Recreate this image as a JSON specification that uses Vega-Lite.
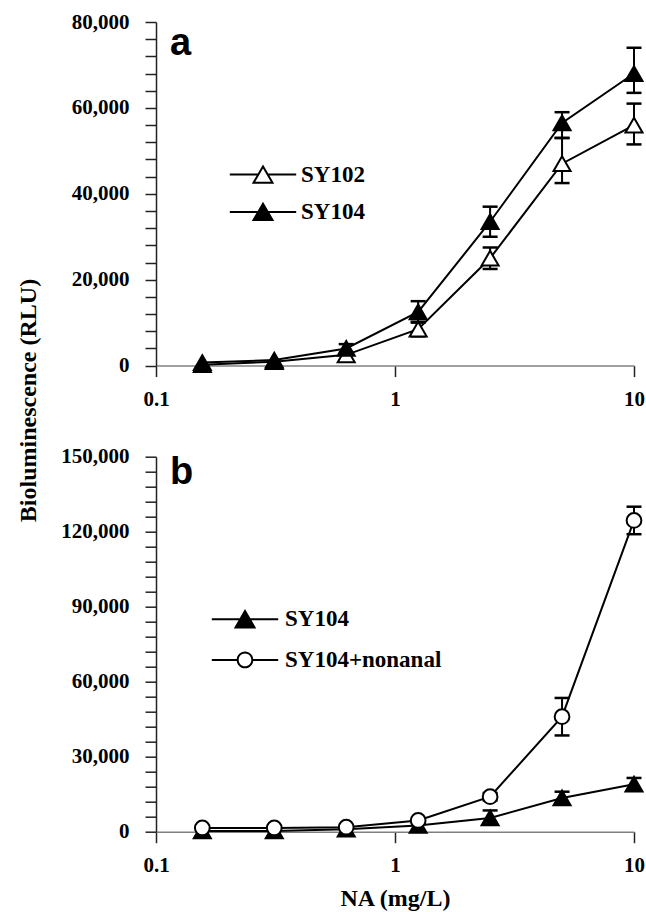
{
  "$schema": "https://vega.github.io/schema/vega-lite/v6.json",
  "padding": {"left": 16, "top": 11, "right": 5, "bottom": 2},
  "background": "white",
  "bounds": "flush",
  "spacing": 90.7,
  "resolve": {"scale": {"shape": "independent", "fill": "independent", "x": "independent", "y": "independent"}, "legend": {"shape": "independent", "fill": "independent"}},
  "config": {
    "font": "Liberation Serif",
    "view": {"stroke": null},
    "axis": {"labelFont": "Liberation Serif", "labelFontSize": 21, "labelFontWeight": "bold", "labelColor": "black", "titleFont": "Liberation Serif", "titleFontSize": 24, "titleFontWeight": "bold", "titleColor": "black", "grid": false, "tickColor": "#222222", "tickWidth": 1.5, "domainWidth": 1.5},
    "legend": {"labelFont": "Liberation Serif", "labelFontSize": 23, "labelFontWeight": "bold", "labelColor": "black"}
  },
  "datasets": {
    "a": [
      {"conc": 0.15625, "series": "SY102", "mean": 200},
      {"conc": 0.3125, "series": "SY102", "mean": 900},
      {"conc": 0.625, "series": "SY102", "mean": 2500},
      {"conc": 1.25, "series": "SY102", "mean": 8500, "lo": 6800, "hi": 10200},
      {"conc": 2.5, "series": "SY102", "mean": 25000, "lo": 22500, "hi": 27500},
      {"conc": 5, "series": "SY102", "mean": 47000, "lo": 42500, "hi": 53000},
      {"conc": 10, "series": "SY102", "mean": 56000, "lo": 51500, "hi": 61000},
      {"conc": 0.15625, "series": "SY104", "mean": 700},
      {"conc": 0.3125, "series": "SY104", "mean": 1300},
      {"conc": 0.625, "series": "SY104", "mean": 4000, "lo": 3000, "hi": 5000},
      {"conc": 1.25, "series": "SY104", "mean": 12500, "lo": 10000, "hi": 15000},
      {"conc": 2.5, "series": "SY104", "mean": 33500, "lo": 30000, "hi": 37000},
      {"conc": 5, "series": "SY104", "mean": 56500, "lo": 53000, "hi": 59000},
      {"conc": 10, "series": "SY104", "mean": 68000, "lo": 63500, "hi": 74000}
    ],
    "b": [
      {"conc": 0.15625, "series": "SY104", "mean": 300},
      {"conc": 0.3125, "series": "SY104", "mean": 300},
      {"conc": 0.625, "series": "SY104", "mean": 1000},
      {"conc": 1.25, "series": "SY104", "mean": 2500},
      {"conc": 2.5, "series": "SY104", "mean": 5500, "lo": 3000, "hi": 8500},
      {"conc": 5, "series": "SY104", "mean": 13500, "lo": 11000, "hi": 16000},
      {"conc": 10, "series": "SY104", "mean": 19000, "lo": 16500, "hi": 21500},
      {"conc": 0.15625, "series": "SY104+nonanal", "mean": 1500},
      {"conc": 0.3125, "series": "SY104+nonanal", "mean": 1500},
      {"conc": 0.625, "series": "SY104+nonanal", "mean": 1800},
      {"conc": 1.25, "series": "SY104+nonanal", "mean": 4500},
      {"conc": 2.5, "series": "SY104+nonanal", "mean": 14000, "lo": 12500, "hi": 15500},
      {"conc": 5, "series": "SY104+nonanal", "mean": 46000, "lo": 38500, "hi": 53500},
      {"conc": 10, "series": "SY104+nonanal", "mean": 124500, "lo": 119000, "hi": 130000}
    ]
  },
  "vconcat": [
    {
      "width": 478,
      "height": 343.6,
      "data": {"name": "a"},
      "title": {"text": "a", "anchor": "start", "frame": "group", "orient": "top", "offset": -81.6, "dx": 14, "font": "Liberation Sans", "fontSize": 38, "fontWeight": "bold", "color": "black", "baseline": "alphabetic"},
      "resolve": {"scale": {"shape": "independent"}, "legend": {"shape": "independent"}},
      "encoding": {
        "x": {"field": "conc", "type": "quantitative", "scale": {"type": "log", "domain": [0.1, 10], "nice": false},
          "axis": {"values": [0.1, 1, 10], "format": "~g", "labelFlush": false, "tickSize": 11, "labelPadding": 12, "domainColor": "#808080", "title": null}}
      },
      "layer": [
        {"mark": {"type": "rule", "color": "black", "strokeWidth": 2},
         "encoding": {"y": {"field": "lo", "type": "quantitative", "scale": {"domain": [0, 80000], "nice": false},
          "axis": {"values": [0,4000,8000,12000,16000,20000,24000,28000,32000,36000,40000,44000,48000,52000,56000,60000,64000,68000,72000,76000,80000],
            "labelExpr": "datum.value % 20000 === 0 ? format(datum.value, ',') : ''", "labelOverlap": false, "tickSize": 11, "labelPadding": 16, "domainColor": "#222222",
            "title": "Bioluminescence (RLU)", "titleX": -128, "titleY": 378, "titleAngle": -90, "titleAlign": "center", "titleBaseline": "middle"}}, "y2": {"field": "hi"}}},
        {"mark": {"type": "tick", "orient": "horizontal", "size": 15, "thickness": 2.5, "color": "black", "opacity": 1},
         "encoding": {"y": {"field": "lo", "type": "quantitative", "scale": {"domain": [0, 80000], "nice": false},
          "axis": {"values": [0,4000,8000,12000,16000,20000,24000,28000,32000,36000,40000,44000,48000,52000,56000,60000,64000,68000,72000,76000,80000],
            "labelExpr": "datum.value % 20000 === 0 ? format(datum.value, ',') : ''", "labelOverlap": false, "tickSize": 11, "labelPadding": 16, "domainColor": "#222222",
            "title": "Bioluminescence (RLU)", "titleX": -128, "titleY": 378, "titleAngle": -90, "titleAlign": "center", "titleBaseline": "middle"}}}},
        {"mark": {"type": "tick", "orient": "horizontal", "size": 15, "thickness": 2.5, "color": "black", "opacity": 1},
         "encoding": {"y": {"field": "hi", "type": "quantitative", "scale": {"domain": [0, 80000], "nice": false},
          "axis": {"values": [0,4000,8000,12000,16000,20000,24000,28000,32000,36000,40000,44000,48000,52000,56000,60000,64000,68000,72000,76000,80000],
            "labelExpr": "datum.value % 20000 === 0 ? format(datum.value, ',') : ''", "labelOverlap": false, "tickSize": 11, "labelPadding": 16, "domainColor": "#222222",
            "title": "Bioluminescence (RLU)", "titleX": -128, "titleY": 378, "titleAngle": -90, "titleAlign": "center", "titleBaseline": "middle"}}}},
        {"mark": {"type": "line", "color": "black", "strokeWidth": 2},
         "encoding": {"detail": {"field": "series"}, "y": {"field": "mean", "type": "quantitative", "scale": {"domain": [0, 80000], "nice": false},
          "axis": {"values": [0,4000,8000,12000,16000,20000,24000,28000,32000,36000,40000,44000,48000,52000,56000,60000,64000,68000,72000,76000,80000],
            "labelExpr": "datum.value % 20000 === 0 ? format(datum.value, ',') : ''", "labelOverlap": false, "tickSize": 11, "labelPadding": 16, "domainColor": "#222222",
            "title": "Bioluminescence (RLU)", "titleX": -128, "titleY": 378, "titleAngle": -90, "titleAlign": "center", "titleBaseline": "middle"}}}},
        {"mark": {"type": "point", "filled": false, "opacity": 1, "fillOpacity": 1, "stroke": "black", "strokeWidth": 2, "size": 290},
         "encoding": {
           "y": {"field": "mean", "type": "quantitative", "scale": {"domain": [0, 80000], "nice": false},
            "axis": {"values": [0,4000,8000,12000,16000,20000,24000,28000,32000,36000,40000,44000,48000,52000,56000,60000,64000,68000,72000,76000,80000],
              "labelExpr": "datum.value % 20000 === 0 ? format(datum.value, ',') : ''", "labelOverlap": false, "tickSize": 11, "labelPadding": 16, "domainColor": "#222222",
              "title": "Bioluminescence (RLU)", "titleX": -128, "titleY": 378, "titleAngle": -90, "titleAlign": "center", "titleBaseline": "middle"}},
           "shape": {"field": "series", "type": "nominal", "scale": {"domain": ["SY102", "SY104"], "range": ["triangle-up", "triangle-up"]}, "legend": null},
           "fill": {"field": "series", "type": "nominal", "scale": {"domain": ["SY102", "SY104"], "range": ["white", "black"]}, "legend": null}
         }},
        {"transform": [{"filter": "false"}],
         "mark": {"type": "point", "filled": true, "color": "black", "opacity": 1, "size": 360},
         "encoding": {
           "shape": {"field": "series", "type": "nominal",
             "scale": {"domain": ["SY102", "SY104"], "range": [
               "M-3.5,-0.105L-0.5,-0.105L-0.5,0.105L-3.5,0.105ZM0.5,-0.105L3.5,-0.105L3.5,0.105L0.5,0.105ZM0,-1.076L1.182,0.971L-1.182,0.971ZM0,-0.656L-0.818,0.761L0.818,0.761Z",
               "M-3.5,-0.105L-0.5,-0.105L-0.5,0.105L-3.5,0.105ZM0.5,-0.105L3.5,-0.105L3.5,0.105L0.5,0.105ZM0,-1.076L1.182,0.971L-1.182,0.971Z"]},
             "legend": {"orient": "none", "legendX": 95.5, "legendY": 141.1, "title": null, "symbolSize": 360, "symbolFillColor": "black", "symbolStrokeWidth": 0, "symbolOpacity": 1, "labelOffset": 26.5, "rowPadding": 13.3, "padding": 0}}
         }}
      ]
    },
    {
      "width": 478,
      "height": 375,
      "data": {"name": "b"},
      "title": {"text": "b", "anchor": "start", "frame": "group", "orient": "top", "offset": -76.3, "dx": 14, "font": "Liberation Sans", "fontSize": 38, "fontWeight": "bold", "color": "black", "baseline": "alphabetic"},
      "resolve": {"scale": {"shape": "independent"}, "legend": {"shape": "independent"}},
      "encoding": {
        "x": {"field": "conc", "type": "quantitative", "scale": {"type": "log", "domain": [0.1, 10], "nice": false},
          "axis": {"values": [0.1, 1, 10], "format": "~g", "labelFlush": false, "tickSize": 11, "labelPadding": 12, "domainColor": "#808080", "title": "NA (mg/L)", "titlePadding": 11}}
      },
      "layer": [
        {"mark": {"type": "rule", "color": "black", "strokeWidth": 2},
         "encoding": {"y": {"field": "lo", "type": "quantitative", "scale": {"domain": [0, 150000], "nice": false},
          "axis": {"values": [0,6000,12000,18000,24000,30000,36000,42000,48000,54000,60000,66000,72000,78000,84000,90000,96000,102000,108000,114000,120000,126000,132000,138000,144000,150000],
            "labelExpr": "datum.value % 30000 === 0 ? format(datum.value, ',') : ''", "labelOverlap": false, "tickSize": 11, "labelPadding": 16, "domainColor": "#222222", "title": null}}, "y2": {"field": "hi"}}},
        {"mark": {"type": "tick", "orient": "horizontal", "size": 15, "thickness": 2.5, "color": "black", "opacity": 1},
         "encoding": {"y": {"field": "lo", "type": "quantitative", "scale": {"domain": [0, 150000], "nice": false},
          "axis": {"values": [0,6000,12000,18000,24000,30000,36000,42000,48000,54000,60000,66000,72000,78000,84000,90000,96000,102000,108000,114000,120000,126000,132000,138000,144000,150000],
            "labelExpr": "datum.value % 30000 === 0 ? format(datum.value, ',') : ''", "labelOverlap": false, "tickSize": 11, "labelPadding": 16, "domainColor": "#222222", "title": null}}}},
        {"mark": {"type": "tick", "orient": "horizontal", "size": 15, "thickness": 2.5, "color": "black", "opacity": 1},
         "encoding": {"y": {"field": "hi", "type": "quantitative", "scale": {"domain": [0, 150000], "nice": false},
          "axis": {"values": [0,6000,12000,18000,24000,30000,36000,42000,48000,54000,60000,66000,72000,78000,84000,90000,96000,102000,108000,114000,120000,126000,132000,138000,144000,150000],
            "labelExpr": "datum.value % 30000 === 0 ? format(datum.value, ',') : ''", "labelOverlap": false, "tickSize": 11, "labelPadding": 16, "domainColor": "#222222", "title": null}}}},
        {"mark": {"type": "line", "color": "black", "strokeWidth": 2},
         "encoding": {"detail": {"field": "series"}, "y": {"field": "mean", "type": "quantitative", "scale": {"domain": [0, 150000], "nice": false},
          "axis": {"values": [0,6000,12000,18000,24000,30000,36000,42000,48000,54000,60000,66000,72000,78000,84000,90000,96000,102000,108000,114000,120000,126000,132000,138000,144000,150000],
            "labelExpr": "datum.value % 30000 === 0 ? format(datum.value, ',') : ''", "labelOverlap": false, "tickSize": 11, "labelPadding": 16, "domainColor": "#222222", "title": null}}}},
        {"mark": {"type": "point", "filled": false, "opacity": 1, "fillOpacity": 1, "stroke": "black", "strokeWidth": 2, "size": 290},
         "encoding": {
           "y": {"field": "mean", "type": "quantitative", "scale": {"domain": [0, 150000], "nice": false},
            "axis": {"values": [0,6000,12000,18000,24000,30000,36000,42000,48000,54000,60000,66000,72000,78000,84000,90000,96000,102000,108000,114000,120000,126000,132000,138000,144000,150000],
              "labelExpr": "datum.value % 30000 === 0 ? format(datum.value, ',') : ''", "labelOverlap": false, "tickSize": 11, "labelPadding": 16, "domainColor": "#222222", "title": null}},
           "shape": {"field": "series", "type": "nominal", "scale": {"domain": ["SY104", "SY104+nonanal"], "range": ["triangle-up", "M0.865,0C0.865,0.478 0.478,0.865 0,0.865C-0.478,0.865 -0.865,0.478 -0.865,0C-0.865,-0.478 -0.478,-0.865 0,-0.865C0.478,-0.865 0.865,-0.478 0.865,0Z"]}, "legend": null},
           "fill": {"field": "series", "type": "nominal", "scale": {"domain": ["SY104", "SY104+nonanal"], "range": ["black", "white"]}, "legend": null}
         }},
        {"transform": [{"filter": "false"}],
         "mark": {"type": "point", "filled": true, "color": "black", "opacity": 1, "size": 360},
         "encoding": {
           "shape": {"field": "series", "type": "nominal",
             "scale": {"domain": ["SY104", "SY104+nonanal"], "range": [
               "M-3.5,-0.105L-0.5,-0.105L-0.5,0.105L-3.5,0.105ZM0.5,-0.105L3.5,-0.105L3.5,0.105L0.5,0.105ZM0,-1.076L1.182,0.971L-1.182,0.971Z",
               "M-3.5,-0.105L-0.77,-0.105L-0.77,0.105L-3.5,0.105ZM0.77,-0.105L3.5,-0.105L3.5,0.105L0.77,0.105ZM0.875,0C0.875,0.483 0.483,0.875 0,0.875C-0.483,0.875 -0.875,0.483 -0.875,0C-0.875,-0.483 -0.483,-0.875 0,-0.875C0.483,-0.875 0.875,-0.483 0.875,0ZM0.665,0C0.665,-0.367 0.367,-0.665 0,-0.665C-0.367,-0.665 -0.665,-0.367 -0.665,0C-0.665,0.367 -0.367,0.665 0,0.665C0.367,0.665 0.665,0.367 0.665,0Z"]},
             "legend": {"orient": "none", "legendX": 77.5, "legendY": 151, "title": null, "symbolSize": 360, "symbolFillColor": "black", "symbolStrokeWidth": 0, "symbolOpacity": 1, "labelOffset": 28.5, "rowPadding": 16.7, "padding": 0}}
         }}
      ]
    }
  ]
}
